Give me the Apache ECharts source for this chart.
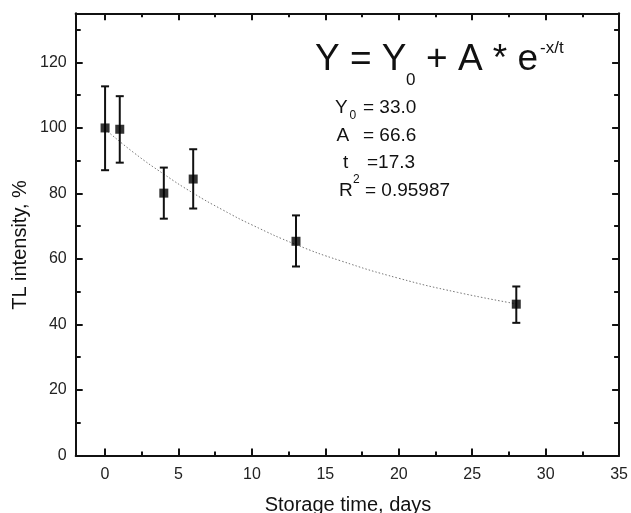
<!DOCTYPE html>
<html>
<head>
<meta charset="utf-8">
<script src="https://cdn.jsdelivr.net/npm/echarts@6/dist/echarts.min.js"></script>
<style>
html,body{margin:0;padding:0;background:#fff;}
#main{width:631px;height:513px;}
</style>
</head>
<body>
<div id="main"></div>
<script>
/*测量数据*/
var timeDays = [0, 1, 4, 6, 13, 28];
var tlMean = [100, 99.6, 80.1, 84.4, 65.4, 46.2];
var tlHigh = [112.7, 109.7, 87.9, 93.5, 73.3, 51.6];
var tlLow = [87.1, 89.4, 72.3, 75.4, 57.7, 40.5];

/*拟合曲线*/
var fitX = [0, 2, 4, 6, 8, 10, 13, 16, 20, 24, 28];
var fitY = [99.6, 92.3, 85.9, 80.1, 75.0, 70.4, 64.4, 59.5, 54.1, 49.8, 46.3];

/*刻度*/
var xMajor = [0, 5, 10, 15, 20, 25, 30, 35];
var xMinor = [2.5, 7.5, 12.5, 17.5, 22.5, 27.5, 32.5];
var yMajor = [0, 20, 40, 60, 80, 100, 120];
var yMinor = [10, 30, 50, 70, 90, 110, 130];

var FONT = '"Liberation Sans", Arial, sans-serif';
var INK = '#111';

var points = timeDays.map(function (x, i) { return [x, tlMean[i]]; });
var bars = timeDays.map(function (x, i) { return [x, tlLow[i], tlHigh[i]]; });
var fit = fitX.map(function (x, i) { return [x, fitY[i]]; });

function xAxisOf(pos, ticks, len, withLine, withLabel) {
	return {
		type: 'value', position: pos, min: -2, max: 35,
		axisLine: { show: withLine, onZero: false, lineStyle: { color: INK, width: 2 } },
		axisTick: { show: true, inside: true, length: len, customValues: ticks, lineStyle: { color: INK, width: 2 } },
		axisLabel: { show: withLabel, customValues: ticks, margin: 11, fontSize: 16, color: '#222', fontFamily: FONT },
		splitLine: { show: false }
	};
}
function yAxisOf(pos, ticks, len, withLine, withLabel) {
	return {
		type: 'value', position: pos, min: 0, max: 135,
		axisLine: { show: withLine, onZero: false, lineStyle: { color: INK, width: 2 } },
		axisTick: { show: true, inside: true, length: len, customValues: ticks, lineStyle: { color: INK, width: 2 } },
		axisLabel: { show: withLabel, customValues: ticks, margin: 9, fontSize: 16, color: '#222', fontFamily: FONT },
		splitLine: { show: false }
	};
}

/*文字元素*/
function txt(s, x, y, size) {
	return {
		type: 'text', x: x, y: y, silent: true,
		style: { text: s, fontSize: size, fontFamily: FONT, fill: INK, textAlign: 'left', textVerticalAlign: 'middle', verticalAlign: 'middle' }
	};
}
/*基线 -> middle 坐标*/
function bl(base, size) { return base - 0.31 * size; }

var graphics = [
	txt('Y = Y', 315, bl(71.7, 37), 37),
	txt('0', 406, bl(85.7, 17), 17),
	txt('+ A * e', 426, bl(71.7, 37), 37),
	txt('-x/t', 540, bl(53.3, 17), 17),

	txt('Y', 335, bl(113.3, 19), 19),
	txt('0', 349.5, bl(119, 12), 12),
	txt('= 33.0', 363, bl(113.3, 19), 19),
	txt('A', 336.5, bl(141.7, 19), 19),
	txt('= 66.6', 363, bl(141.7, 19), 19),
	txt('t', 343, bl(168.3, 19), 19),
	txt('=17.3', 367, bl(168.3, 19), 19),
	txt('R', 339, bl(196.7, 19), 19),
	txt('2', 353, bl(183.3, 12), 12),
	txt('= 0.95987', 365, bl(196.7, 19), 19),

	{
		type: 'text', x: 348, y: bl(511.5, 20), silent: true,
		style: { text: 'Storage time, days', fontSize: 20, fontFamily: FONT, fill: INK, textAlign: 'center', textVerticalAlign: 'middle', verticalAlign: 'middle' }
	},
	{
		type: 'text', x: 20, y: 245, rotation: Math.PI / 2, silent: true,
		style: { text: 'TL intensity, %', fontSize: 20, fontFamily: FONT, fill: INK, textAlign: 'center', textVerticalAlign: 'middle', verticalAlign: 'middle' }
	}
];

var chart = echarts.init(document.getElementById('main'), null, { renderer: 'canvas' });
chart.setOption({
	animation: false,
	backgroundColor: '#fff',
	grid: { left: 75.7, right: 9, top: 13.3, bottom: 57.5, containLabel: false },
	xAxis: [
		xAxisOf('bottom', xMajor, 7, true, true),
		xAxisOf('bottom', xMinor, 4, false, false),
		xAxisOf('top', xMajor, 7, true, false),
		xAxisOf('top', xMinor, 4, false, false)
	],
	yAxis: [
		yAxisOf('left', yMajor, 7, true, true),
		yAxisOf('left', yMinor, 5, false, false),
		yAxisOf('right', yMajor, 7, true, false),
		yAxisOf('right', yMinor, 5, false, false)
	],
	graphic: graphics,
	series: [
		{
			name: 'fit', type: 'line', data: fit, smooth: true, showSymbol: false, z: 1,
			lineStyle: { color: '#777', width: 1, type: [1.5, 2] }
		},
		{
			name: 'error', type: 'custom', data: bars, z: 3,
			renderItem: function (params, api) {
				var x = api.value(0);
				var lo = api.coord([x, api.value(1)]);
				var hi = api.coord([x, api.value(2)]);
				var w = 4;
				var st = { stroke: INK, lineWidth: 2 };
				return {
					type: 'group',
					children: [
						{ type: 'line', shape: { x1: lo[0], y1: lo[1], x2: hi[0], y2: hi[1] }, style: st },
						{ type: 'line', shape: { x1: hi[0] - w, y1: hi[1], x2: hi[0] + w, y2: hi[1] }, style: st },
						{ type: 'line', shape: { x1: lo[0] - w, y1: lo[1], x2: lo[0] + w, y2: lo[1] }, style: st }
					]
				};
			}
		},
		{
			name: 'TL', type: 'scatter', data: points, symbol: 'rect', symbolSize: 9, z: 4,
			itemStyle: { color: '#000' }
		}
	]
});
</script>
</body>
</html>
